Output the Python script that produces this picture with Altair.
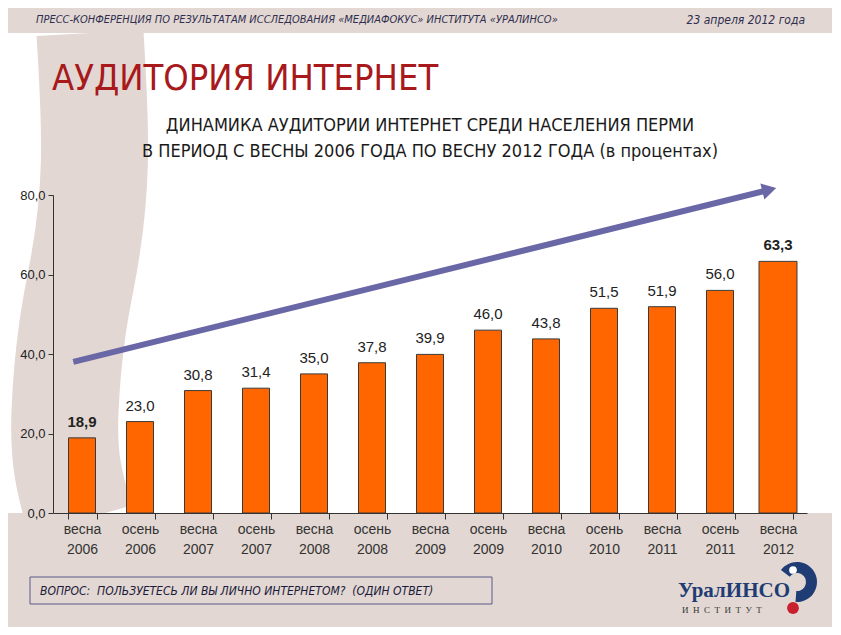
import altair as alt
import pandas as pd

# ---------------- data ----------------
periods = ["весна 2006", "осень 2006", "весна 2007", "осень 2007", "весна 2008",
           "осень 2008", "весна 2009", "осень 2009", "весна 2010", "осень 2010",
           "весна 2011", "осень 2011", "весна 2012"]
values = [18.9, 23.0, 30.8, 31.4, 35.0, 37.8, 39.9, 46.0, 43.8, 51.5, 51.9, 56.0, 63.3]
y_ticks = [0, 20, 40, 60, 80]
arrow_periods = ["весна 2006", "весна 2012"]
arrow_values = [38.0, 81.3]
highlight = ["весна 2006", "весна 2012"]

header_left = "ПРЕСС-КОНФЕРЕНЦИЯ ПО РЕЗУЛЬТАТАМ ИССЛЕДОВАНИЯ «МЕДИАФОКУС» ИНСТИТУТА «УРАЛИНСО»"
header_right = "23 апреля 2012 года"
main_title = "АУДИТОРИЯ ИНТЕРНЕТ"
subtitle1 = "ДИНАМИКА АУДИТОРИИ ИНТЕРНЕТ СРЕДИ НАСЕЛЕНИЯ ПЕРМИ"
subtitle2 = "В ПЕРИОД С ВЕСНЫ 2006 ГОДА ПО ВЕСНУ 2012 ГОДА (в процентах)"
question = "ВОПРОС:\u00a0\u00a0ПОЛЬЗУЕТЕСЬ ЛИ ВЫ ЛИЧНО ИНТЕРНЕТОМ?\u00a0\u00a0(ОДИН ОТВЕТ)"
logo_name = "УралИНСО"
logo_sub = "\u00a0\u00a0".join(list("ИНСТИТУТ"))

# decorative background stripe path (pixel space, slide decoration only)
stripe_px = [37, 45, 31, 19, 10, 13, 27]
stripe_py = [-162, -25, 75, 125, 225, 275, 325]

# ---------------- styles ----------------
NARROW = "Liberation Sans Narrow, DejaVu Sans Condensed, Arial Narrow, sans-serif"
SANS = "Liberation Sans, Arial, sans-serif"
SERIF = "Liberation Serif, DejaVu Serif, serif"
BEIGE = "#E2D7D2"
ORANGE = "#FF6600"
ARROW = "#6A67A6"
NAVY = "#1F3D74"

df = pd.DataFrame({"period": periods, "value": values})
df["label"] = [f"{v:.1f}".replace(".", ",") for v in values]
df["hl"] = [p in highlight for p in periods]
arrow_df = pd.DataFrame({"period": arrow_periods, "value": arrow_values})
stripe_df = pd.DataFrame({"px": stripe_px, "py": stripe_py, "i": list(range(len(stripe_px)))})
one = pd.DataFrame({"a": [0]})

# ---------------- decoration ----------------
stripe = alt.Chart(stripe_df).mark_line(
    color=BEIGE, strokeWidth=107, strokeCap="butt", interpolate="basis"
).encode(
    x=alt.X("px:Q", scale=None, axis=None),
    y=alt.Y("py:Q", scale=None, axis=None),
    order=alt.Order("i:Q"),
)
header_band = alt.Chart(one).mark_rect(color=BEIGE).encode(
    x=alt.value(-46), x2=alt.value(781), y=alt.value(-187), y2=alt.value(-162)
)
bottom_band = alt.Chart(one).mark_rect(color=BEIGE).encode(
    x=alt.value(-46), x2=alt.value(781), y=alt.value(318), y2=alt.value(432)
)
decor = alt.layer(stripe, header_band, bottom_band)

# ---------------- main chart ----------------
x_enc = alt.X(
    "period:N", sort=periods,
    scale=alt.Scale(paddingInner=0.5, paddingOuter=0.25),
    axis=alt.Axis(
        title=None, labelAngle=0, labelExpr="split(datum.label, ' ')",
        tickBand="extent", domainColor="#333333", tickColor="#333333",
        tickSize=6, labelFont=SANS, labelFontSize=14, labelColor="#333333",
        labelPadding=3, labelLineHeight=20, labelBaseline="top", zindex=1,
    ),
)
y_enc = alt.Y(
    "value:Q", scale=alt.Scale(domain=[0, 80], nice=False),
    axis=alt.Axis(
        title=None, values=y_ticks, grid=False,
        labelExpr="replace(format(datum.value, '.1f'), '.', ',')",
        domainColor="#333333", tickColor="#333333", tickSize=5,
        labelFont=SANS, labelFontSize=13, labelColor="#222222",
        labelPadding=3, zindex=1,
    ),
)

bars = alt.Chart(df).mark_bar(color=ORANGE, stroke="#3a3a3a", strokeWidth=1).encode(
    x=x_enc, y=y_enc,
    size=alt.condition(alt.datum.period == "весна 2012", alt.value(38), alt.value(27)),
)

labels_norm = alt.Chart(df).transform_filter("!datum.hl").mark_text(
    baseline="bottom", dy=-8, font=SANS, fontSize=15, color="#222222"
).encode(x=alt.X("period:N", sort=periods), y="value:Q", text="label:N")

labels_bold = alt.Chart(df).transform_filter("datum.hl").mark_text(
    baseline="bottom", dy=-8, font=SANS, fontSize=15, fontWeight="bold", color="#222222"
).encode(x=alt.X("period:N", sort=periods), y="value:Q", text="label:N")

arrow_line = alt.Chart(arrow_df).mark_line(
    color=ARROW, strokeWidth=6, strokeCap="butt"
).encode(
    x=alt.X("period:N", sort=periods, bandPosition=0.2),
    y="value:Q",
)
arrow_head = alt.Chart(arrow_df.tail(1)).mark_point(
    shape="triangle-right", filled=True, opacity=1, color=ARROW, size=270, angle=346
).encode(
    x=alt.X("period:N", sort=periods, bandPosition=0.2),
    y="value:Q",
)

main = alt.layer(bars, labels_norm, labels_bold, arrow_line, arrow_head)

# ---------------- texts ----------------
def txt(s, x, y, **kw):
    return alt.Chart(one).mark_text(**kw).encode(
        x=alt.value(x), y=alt.value(y), text=alt.value(s)
    )

t_head_l = txt(header_left, -17, -175, align="left", baseline="middle", font=NARROW,
               fontSize=11, fontStyle="italic", color="#2E2E50")
t_head_r = txt(header_right, 752, -175, align="right", baseline="middle", font=NARROW,
               fontSize=12, fontStyle="italic", color="#2E2E50")
t_title = txt(main_title, -1, -105, align="left", baseline="alphabetic", font=NARROW,
              fontSize=36, color="#A8191C")
t_sub1 = txt(subtitle1, 377, -64, align="center", baseline="alphabetic", font=NARROW,
             fontSize=18, color="#1a1a1a")
t_sub2 = txt(subtitle2, 377, -38, align="center", baseline="alphabetic", font=NARROW,
             fontSize=18, color="#1a1a1a")

q_box = alt.Chart(one).mark_rect(fill=BEIGE, stroke="#5A5A8A", strokeWidth=1).encode(
    x=alt.value(-23), x2=alt.value(439), y=alt.value(382), y2=alt.value(409)
)
t_q = txt(question, -13, 395.5, align="left", baseline="middle", font=NARROW,
          fontSize=12, fontStyle="italic", color="#1a1a3a")

logo_arc = alt.Chart(one).mark_arc(
    color=NAVY, theta=5.35, theta2=9.5, radius=20, radius2=9
).encode(x=alt.value(744), y=alt.value(387))
logo_head = alt.Chart(one).mark_point(filled=True, opacity=1, color="white", size=60).encode(
    x=alt.value(740), y=alt.value(375)
)
logo_dot = alt.Chart(one).mark_point(filled=True, opacity=1, color="#C9202F", size=140).encode(
    x=alt.value(740), y=alt.value(413)
)
t_logo = txt(logo_name, 737, 402, align="right", baseline="alphabetic", font=SERIF,
             fontSize=21, fontWeight="bold", color=NAVY)
t_logo_sub = txt(logo_sub, 629, 415, align="left", baseline="middle", font=SERIF,
                 fontSize=9, color="#333333")

texts = alt.layer(t_head_l, t_head_r, t_title, t_sub1, t_sub2, q_box, t_q,
                  logo_arc, logo_head, logo_dot, t_logo, t_logo_sub)

chart = alt.layer(decor, main, texts).resolve_scale(
    x="independent", y="independent"
).properties(
    width=754, height=318,
    autosize=alt.AutoSizeParams(type="none"),
    padding={"left": 45, "top": 187, "right": 25, "bottom": 114},
    background="white",
).configure_view(stroke=None)

chart.save("out.html", embed_options={"renderer": "svg", "actions": False})
